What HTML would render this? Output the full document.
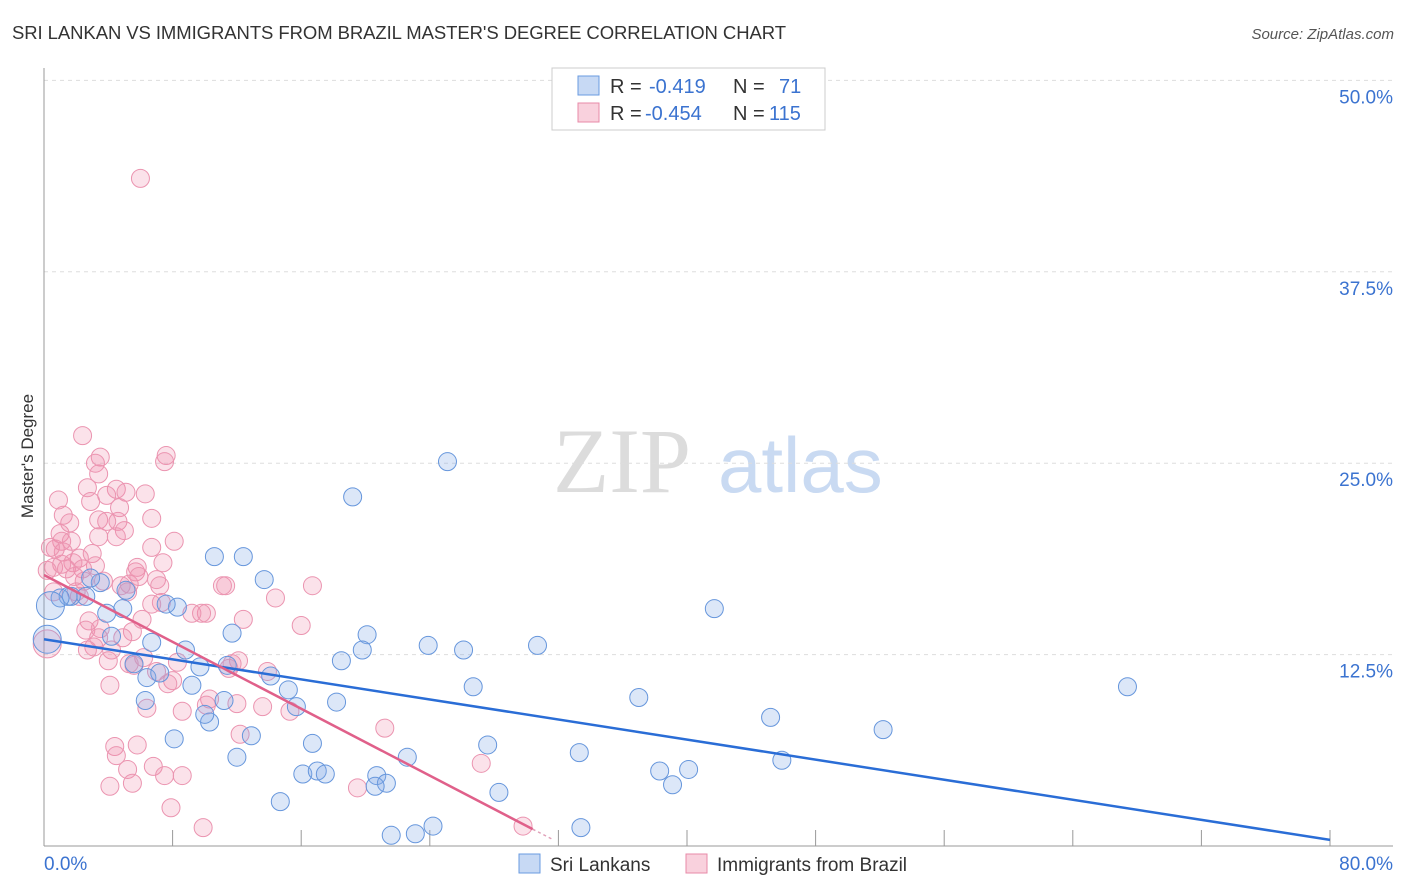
<!DOCTYPE html>
<html><head><meta charset="utf-8"><style>
body{margin:0;background:#fff;font-family:"Liberation Sans",sans-serif}
svg{display:block}
</style></head><body>
<svg id="chart" width="1406" height="892" xmlns="http://www.w3.org/2000/svg" font-family="Liberation Sans, sans-serif">
<text x="12" y="39" font-size="18.5" fill="#333" textLength="774">SRI LANKAN VS IMMIGRANTS FROM BRAZIL MASTER'S DEGREE CORRELATION CHART</text>
<text x="1394" y="39" font-size="15" fill="#555" font-style="italic" text-anchor="end">Source: ZipAtlas.com</text>
<g>
<text x="553" y="492" font-size="92" font-family="Liberation Serif, serif" fill="#dcdcdc">ZIP</text>
<text x="718" y="492" font-size="78" fill="#c9daf2">atlas</text>
</g>
<g id="grid"></g>
<g id="axes"></g>
<g id="marks"></g>
<text transform="translate(33,456) rotate(-90)" font-size="17" fill="#333" text-anchor="middle">Master's Degree</text>
<g>
<rect x="552" y="68" width="273" height="62" fill="#fff" stroke="#ccc"/>
<rect x="578" y="76" width="21" height="19" fill="rgba(130,170,230,0.45)" stroke="#6a9be0"/>
<rect x="578" y="103" width="21" height="19" fill="rgba(240,140,170,0.4)" stroke="#e88aa8"/>
<text x="610" y="93" font-size="20" fill="#333">R = <tspan fill="#3b73d0" x="649">-0.419</tspan><tspan x="733">N = </tspan><tspan fill="#3b73d0" x="779">71</tspan></text>
<text x="610" y="120" font-size="20" fill="#333">R = <tspan fill="#3b73d0" x="645">-0.454</tspan><tspan x="733">N = </tspan><tspan fill="#3b73d0" x="769">115</tspan></text>
</g>
<g>
<rect x="519" y="854" width="21" height="19" fill="rgba(130,170,230,0.45)" stroke="#6a9be0"/>
<text x="550" y="871" font-size="19" fill="#333">Sri Lankans</text>
<rect x="686" y="854" width="21" height="19" fill="rgba(240,140,170,0.4)" stroke="#e88aa8"/>
<text x="717" y="871" font-size="19" fill="#333">Immigrants from Brazil</text>
</g>
</svg>
<script>
const blueX=[25.1,19.2,10.6,12.4,13.7,41.7,67.4,52.2,45.2,45.9,37.0,33.3,38.3,39.1,40.1,30.7,26.7,26.1,23.9,20.1,19.8,18.5,18.2,16.7,16.1,17.0,17.5,15.7,15.2,14.1,11.7,11.4,10.3,10.0,11.2,12.9,12.0,14.7,9.2,9.7,8.8,8.3,7.6,6.7,6.4,7.2,6.3,8.1,5.6,4.9,4.2,3.9,5.1,3.5,2.9,2.6,1.7,1.5,1.0,0.4,0.2,22.6,20.7,21.3,20.6,27.6,28.3,24.2,23.1,21.6,33.4];
const blueY=[25.1,22.8,18.9,18.9,17.4,15.5,10.4,7.6,8.4,5.6,9.7,6.1,4.9,4.0,5.0,13.1,10.4,12.8,13.1,13.8,12.8,12.1,9.4,6.7,4.7,4.9,4.7,9.1,10.2,11.1,13.9,11.8,8.1,8.6,9.5,7.2,5.8,2.9,10.5,11.7,12.8,15.6,15.8,13.3,11.0,11.3,9.5,7.0,11.9,15.5,13.7,15.2,16.7,17.2,17.5,16.3,16.3,16.3,16.2,15.7,13.5,5.8,4.6,4.1,3.9,6.6,3.5,1.3,0.8,0.7,1.2];
const pinkX=[6.0,2.4,7.6,7.5,3.5,3.2,3.4,2.7,4.5,5.1,6.3,3.9,0.9,2.9,4.7,1.2,6.7,3.4,4.6,1.6,3.9,5.0,1.0,3.4,4.5,1.1,1.7,8.1,6.7,0.7,1.2,3.0,2.2,1.8,1.1,3.2,0.6,1.4,2.4,7.4,0.2,5.7,5.8,7.0,2.5,3.7,1.9,5.3,5.9,4.8,11.1,11.3,16.7,7.2,0.6,2.0,2.2,5.2,14.4,7.3,6.7,10.1,9.8,6.1,12.4,2.8,16.0,2.6,3.5,5.5,3.4,4.9,3.1,2.7,4.2,0.2,12.1,11.7,6.2,4.0,5.6,8.3,5.3,13.9,7.0,8.0,11.5,7.7,4.1,8.6,12.0,13.6,15.3,6.4,21.2,12.2,4.4,5.8,4.5,5.2,6.8,8.6,7.5,4.1,5.5,7.9,9.9,29.8,27.2,19.5,10.3,10.1,9.2,0.4];
const pinkY=[43.6,26.8,25.5,25.1,25.4,25.0,24.3,23.4,23.3,23.1,23.0,22.9,22.6,22.5,22.1,21.6,21.4,21.3,21.2,21.1,21.2,20.6,20.4,20.2,20.2,19.9,19.9,19.9,19.5,19.4,19.2,19.1,18.8,18.5,18.4,18.3,18.2,18.1,18.1,18.5,18.0,17.9,18.2,17.4,17.3,17.3,17.6,17.1,17.6,17.0,17.0,17.0,17.0,17.0,16.6,16.6,16.3,16.6,16.2,15.9,15.8,15.2,15.2,14.8,14.8,14.7,14.4,14.1,14.2,14.0,13.6,13.6,13.0,12.8,12.8,13.2,12.1,11.9,12.3,12.1,11.8,12.0,11.9,11.4,11.4,10.8,11.6,10.6,10.5,8.8,9.3,9.1,8.8,9.0,7.7,7.3,6.5,6.6,5.9,5.0,5.2,4.6,4.6,3.9,4.1,2.5,1.2,1.3,5.4,3.8,9.6,9.2,15.2,19.5];
const blueBig=[59,60];
const pinkBig=[75,114];
const blueTrend=[13.5,0.4];   // y at x=0 and x=80
const pinkTrend=[17.7,1.1,30.4,0.4,31.7]; // y0, y at x_end, x_end, dashed y, dashed x
const yTicks=[12.5,25,37.5,50];
const yTickLabels=["12.5%","25.0%","37.5%","50.0%"];
const xTicks=[8,16,24,32,40,48,56,64,72,80];

const NS="http://www.w3.org/2000/svg";
const X=v=>44+v/80*1286;
const Y=v=>846-v/12.5*191.4;
function mk(t,a,p){const e=document.createElementNS(NS,t);for(const k in a)e.setAttribute(k,a[k]);p.appendChild(e);return e;}
const grid=document.getElementById('grid'),axes=document.getElementById('axes'),marks=document.getElementById('marks');
yTicks.forEach((v,i)=>{
  const l=mk('line',{x1:44,x2:1393,y1:Y(v),y2:Y(v),stroke:'#ddd','stroke-dasharray':'4,4'},grid);
  
  
  const t=mk('text',{x:1393,y:Y(v)+23,'font-size':19,fill:'#3b73d0','text-anchor':'end'},axes);
  t.textContent=yTickLabels[i];
  
  
});
const ax=mk('line',{x1:44,x2:44,y1:68,y2:846,stroke:'#999'},axes);


const bx=mk('line',{x1:44,x2:1393,y1:846,y2:846,stroke:'#999'},axes);


xTicks.forEach(v=>{
  const l=mk('line',{x1:X(v),x2:X(v),y1:830,y2:846,stroke:'#999'},axes);
  
  
});
const x0=mk('text',{x:44,y:870,'font-size':19,fill:'#3b73d0'},axes);x0.textContent='0.0%';


const x1=mk('text',{x:1393,y:870,'font-size':19,fill:'#3b73d0','text-anchor':'end'},axes);x1.textContent='80.0%';



pinkX.forEach((v,i)=>{
  const c=mk('circle',{cx:X(v),cy:Y(pinkY[i]),r:pinkBig.includes(i)?14:9,fill:'rgba(240,140,170,0.25)',stroke:'#eb94b0','stroke-width':1},marks);
  
  
});
blueX.forEach((v,i)=>{
  const c=mk('circle',{cx:X(v),cy:Y(blueY[i]),r:blueBig.includes(i)?14:9,fill:'rgba(130,170,230,0.28)',stroke:'#6696dc','stroke-width':1},marks);
  
  
});
const bl=mk('line',{x1:X(0),y1:Y(blueTrend[0]),x2:X(80),y2:Y(blueTrend[1]),stroke:'#2a6dd6','stroke-width':2.5},marks);


const pl=mk('line',{x1:X(0),y1:Y(pinkTrend[0]),x2:X(pinkTrend[2]),y2:Y(pinkTrend[1]),stroke:'#e0608a','stroke-width':2.5},marks);


const pd=mk('line',{x1:X(pinkTrend[2]),y1:Y(pinkTrend[1]),x2:X(pinkTrend[4]),y2:Y(pinkTrend[3]),stroke:'#e0a0b8','stroke-width':1.5,'stroke-dasharray':'3,3'},marks);


</script>
</body></html>
